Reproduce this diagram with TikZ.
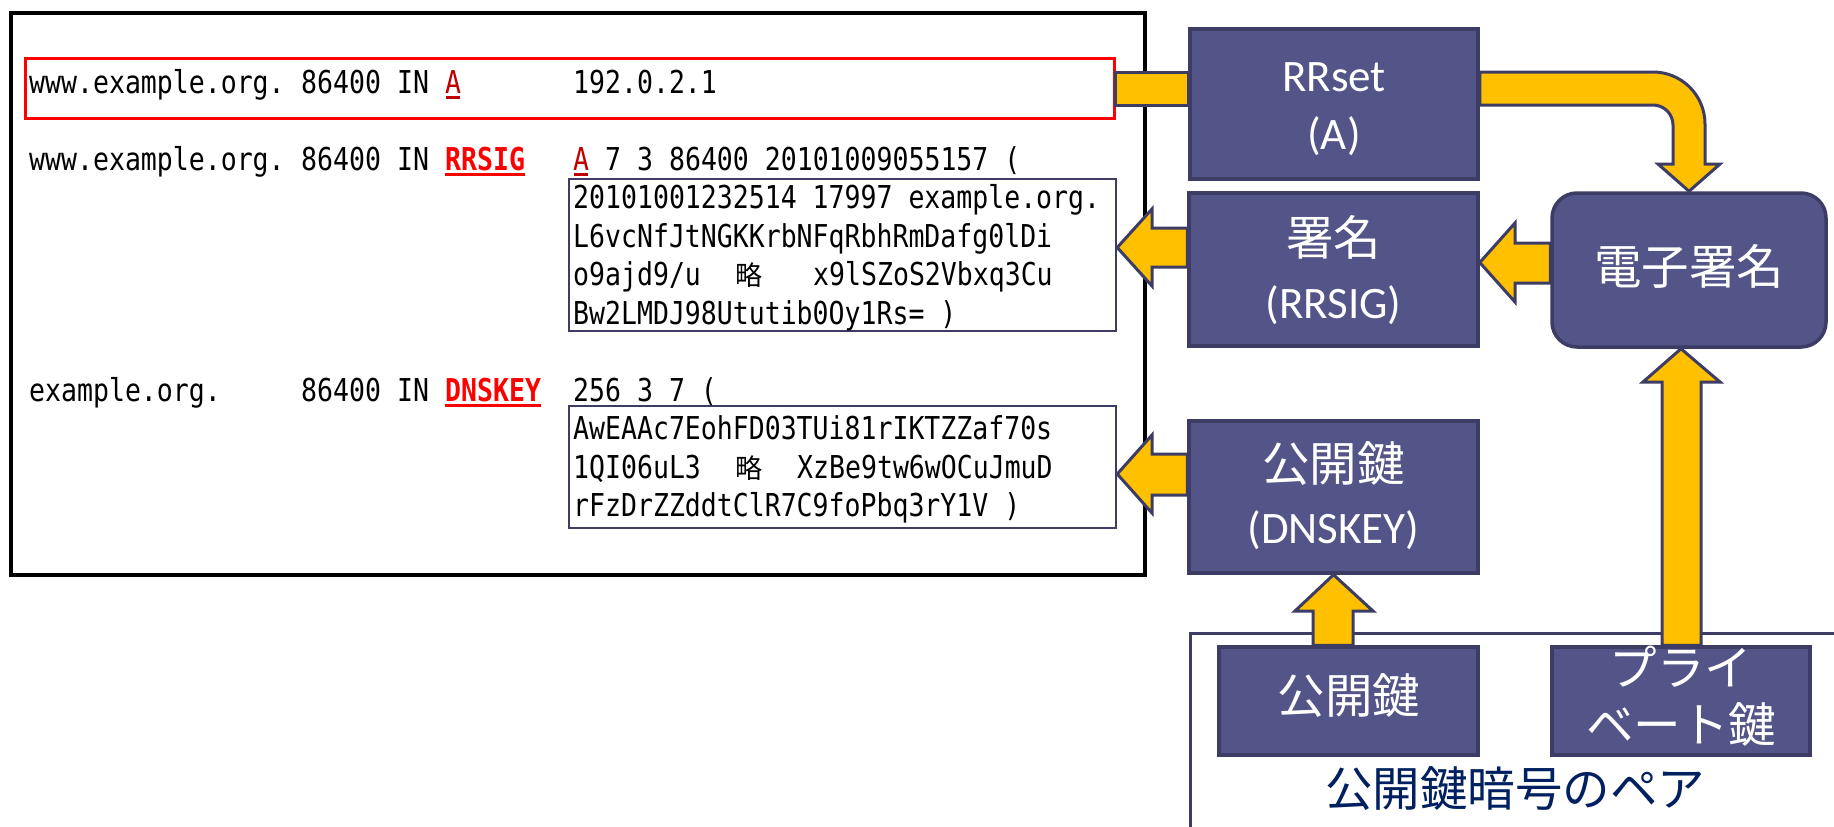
\documentclass[tikz,border=0pt]{standalone}
\usepackage{fontspec}
\usetikzlibrary{calc}
\setmainfont{Carlito}
\newfontfamily\jpfont{Noto Sans CJK JP}
\newfontfamily\latfont{Carlito}
\newfontfamily\monofont[FakeStretch=0.842]{DejaVu Sans Mono}
\definecolor{boxfill}{HTML}{535488}
\definecolor{boxline}{HTML}{3C3C64}
\definecolor{arrowfill}{HTML}{FFC000}
\definecolor{darkred}{HTML}{C00000}
\definecolor{labelblue}{HTML}{002060}
\tikzset{
  outerframe/.style={draw=black, line width=4.5pt, inner sep=0pt, minimum width=1134pt, minimum height=562pt},
  redframe/.style={draw=red, line width=3pt, inner sep=0pt, minimum width=1089pt, minimum height=60pt},
  recbox/.style={draw=boxline, fill=white, line width=2.5pt, inner sep=0pt, minimum width=547pt},
  panel/.style={draw=boxline, fill=boxfill, line width=3.5pt, inner sep=0pt},
  yarrow/.style={draw=boxline, fill=arrowfill, line width=3pt, line join=miter},
  boxtxt/.style={text=white, inner sep=0pt, font=\latfont\fontsize{45}{54}\selectfont},
  boxjp/.style={text=white, inner sep=0pt, font=\jpfont\fontsize{47.5}{57}\selectfont},
  rectext/.style={anchor=base west, inner sep=0pt, font=\monofont\fontsize{31.5}{38}\selectfont},
  keyword/.style={rectext, text=red, font=\monofont\bfseries\fontsize{31.5}{38}\selectfont},
  typeA/.style={rectext, text=darkred},
  ryaku/.style={anchor=base west, inner sep=0pt, font=\jpfont\fontsize{27}{30}\selectfont},
  ulred/.style={red, line width=3pt},
  uldark/.style={darkred, line width=2.5pt},
  pairline/.style={draw=boxline, line width=3pt},
  pairlabel/.style={text=labelblue, inner sep=0pt, font=\jpfont\fontsize{47.5}{57}\selectfont},
}
\begin{document}
\begin{tikzpicture}[x=1pt,y=-1pt]
\useasboundingbox (0,0) rectangle (1834,827);

% zone file frame
\node[outerframe] (zone) at (578,294) {};
\node[redframe] (redbox) at (569.5,88) {};
\node[recbox, minimum height=152pt] (sigbox) at (842.5,255) {};
\node[recbox, minimum height=122pt] (keybox) at (842.5,467) {};

% row 0
\node[rectext] (a1) at (29,93) {www.example.org.};
\node[rectext] (a2) at (301,93) {86400};
\node[rectext] (a3) at (397,93) {IN};
\node[typeA] (a4) at (445,93) {A};
\node[rectext] (a5) at (573,93) {192.0.2.1};
\draw[uldark] ($(a4.base west)+(1,4.5)$) -- ($(a4.base east)+(-1,4.5)$);

% RRSIG
\node[rectext] (b1) at (29,170) {www.example.org.};
\node[rectext] (b2) at (301,170) {86400};
\node[rectext] (b3) at (397,170) {IN};
\node[keyword] (b4) at (445,170) {RRSIG};
\draw[ulred] ($(b4.base west)+(0,4)$) -- ($(b4.base east)+(0,4)$);
\node[typeA] (b5) at (573,170) {A};
\draw[uldark] ($(b5.base west)+(1,4.5)$) -- ($(b5.base east)+(-1,4.5)$);
\node[rectext] (b6) at (605,170) {7 3 86400 20101009055157 (};
\node[rectext] (s1) at (573,208.5) {20101001232514 17997 example.org.};
\node[rectext] (s2) at (573,247) {L6vcNfJtNGKKrbNFqRbhRmDafg0lDi};
\node[rectext] (s3) at (573,285.5) {o9ajd9/u};
\node[ryaku] (s3r) at (735,285.5) {略};
\node[rectext] (s3b) at (813,285.5) {x9lSZoS2Vbxq3Cu};
\node[rectext] (s4) at (573,324) {Bw2LMDJ98Ututib0Oy1Rs= )};

% DNSKEY
\node[rectext] (c1) at (29,401) {example.org.};
\node[rectext] (c2) at (301,401) {86400};
\node[rectext] (c3) at (397,401) {IN};
\node[keyword] (c4) at (445,401) {DNSKEY};
\draw[ulred] ($(c4.base west)+(0,4)$) -- ($(c4.base east)+(0,4)$);
\node[rectext] (c5) at (573,401) {256 3 7 (};
\node[rectext] (k1) at (573,439.5) {AwEAAc7EohFD03TUi81rIKTZZaf70s};
\node[rectext] (k2) at (573,478) {1QI06uL3};
\node[ryaku] (k2r) at (735,478) {略};
\node[rectext] (k2b) at (797,478) {XzBe9tw6wOCuJmuD};
\node[rectext] (k3) at (573,516.5) {rFzDrZZddtClR7C9foPbq3rY1V )};

% key pair frame
\coordinate (pairTR) at (1834,633);
\coordinate (pairTL) at (1190,633);
\coordinate (pairBL) at (1190,827);
\draw[pairline] (pairTR) -- (pairTL) -- (pairBL);
\node[pairlabel] (pairtxt) at (1515,789) {公開鍵暗号のペア};

% panels
\node[panel, minimum width=288pt, minimum height=150pt] (rrset) at (1334,104) {};
\node[boxtxt] (rrsetT1) at (1334,77.5) {RRset};
\node[boxtxt] (rrsetT2) at (1334,136) {(A)};

\node[panel, minimum width=289pt, minimum height=153pt] (sig) at (1333.5,269.5) {};
\node[boxjp] (sigT1) at (1333.5,237.5) {署名};
\node[boxtxt] (sigT2) at (1333.5,305) {(RRSIG)};

\node[panel, rounded corners=25pt, minimum width=274pt, minimum height=154pt] (dsig) at (1689,270) {};
\node[boxjp] (dsigT) at (1689,266) {電子署名};

\node[panel, minimum width=289pt, minimum height=152pt] (dnskey) at (1333.5,497) {};
\node[boxjp] (dnskeyT1) at (1333.5,464) {公開鍵};
\node[boxtxt] (dnskeyT2) at (1333.5,530) {(DNSKEY)};

\node[panel, minimum width=259pt, minimum height=108pt] (pub) at (1348.5,701) {};
\node[boxjp] (pubT) at (1349,696) {公開鍵};

\node[panel, minimum width=258pt, minimum height=108pt] (priv) at (1681,701) {};
\node[boxjp] (privT1) at (1681,667) {プライ};
\node[boxjp] (privT2) at (1681,724) {ベート鍵};

% arrows
\filldraw[yarrow] (redbox.east |- 0,72) -- (rrset.west |- 0,72) -- (rrset.west |- 0,105) -- (redbox.east |- 0,105) -- cycle;

\filldraw[yarrow] (rrset.east |- 0,72) -- (1653,72) .. controls (1681.7,72) and (1705,95.3) .. (1705,124)
  -- (1705,164) -- (1720,164) -- (dsig.north) -- (1658,164) -- (1673,164) -- (1673,125)
  .. controls (1673,114) and (1664,105) .. (1653,105) -- (rrset.east |- 0,105) -- cycle;

\filldraw[yarrow] (dsig.west |- 0,243) -- (1515,243) -- (1515,223) -- (sig.east |- 0,262.5)
  -- (1515,302) -- (1515,283) -- (dsig.west |- 0,283) -- cycle;

\filldraw[yarrow] (sig.west |- 0,228) -- (1152,228) -- (1152,209) -- (sigbox.east |- 0,247.5)
  -- (1152,286) -- (1152,267) -- (sig.west |- 0,267) -- cycle;

\filldraw[yarrow] (dnskey.west |- 0,454) -- (1152,454) -- (1152,435) -- (keybox.east |- 0,474)
  -- (1152,513) -- (1152,495) -- (dnskey.west |- 0,495) -- cycle;

\filldraw[yarrow] (1313,0 |- pub.north) -- (1313,611) -- (1295,611) -- (dnskey.south)
  -- (1373,611) -- (1353,611) -- (1353,0 |- pub.north) -- cycle;

\filldraw[yarrow] (1662,0 |- priv.north) -- (1662,382) -- (1643,382) -- (priv.north |- dsig.south)
  -- (1720,382) -- (1701,382) -- (1701,0 |- priv.north) -- cycle;
\end{tikzpicture}
\end{document}
